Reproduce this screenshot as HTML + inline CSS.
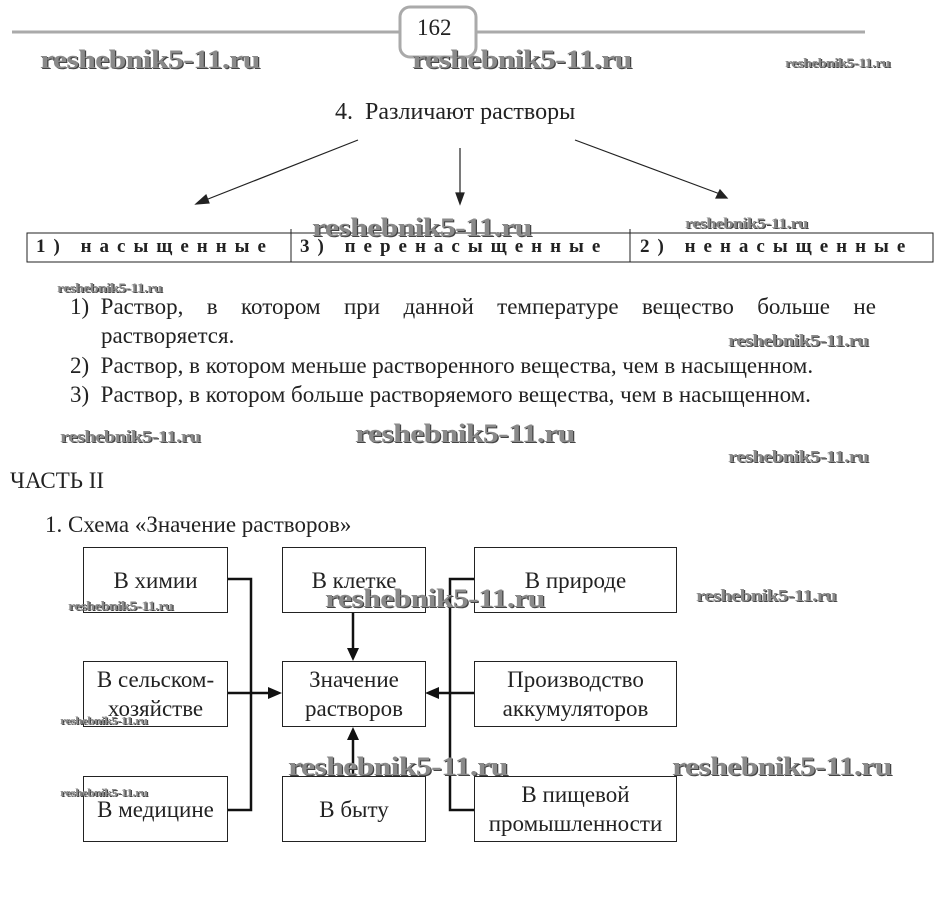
<!DOCTYPE html>
<html><head><meta charset="utf-8"><style>
body{margin:0;width:947px;height:897px;background:#fff;position:relative;overflow:hidden;font-family:"Liberation Serif",serif;color:#222}
.a{position:absolute;white-space:nowrap}
.wm{position:absolute;font-family:"Liberation Serif",serif;font-weight:bold;color:#8a8a8a;text-shadow:1px 1px 0 #444;white-space:nowrap;letter-spacing:-0.5px;transform:scaleX(1.22);transform-origin:left top}
.b{position:absolute;border:1px solid #222;box-sizing:border-box;display:flex;align-items:center;justify-content:center;text-align:center;font-size:23px;line-height:29px}
.t{font-family:"Liberation Serif",serif;font-weight:bold;font-size:19px;letter-spacing:8px}
</style></head><body>
<svg class="a" style="left:0;top:0" width="947" height="897">
<line x1="12" y1="32" x2="400" y2="32" stroke="#aaa" stroke-width="3"/>
<line x1="475" y1="32" x2="865" y2="32" stroke="#aaa" stroke-width="3"/>
<rect x="400" y="7" width="76" height="50" rx="10" fill="#fff" stroke="#aaa" stroke-width="3"/>
<g stroke="#222" stroke-width="1.2" fill="#222">
<line x1="358" y1="140" x2="203" y2="201"/><polygon points="196,204 206,195 209,203"/>
<line x1="460" y1="148" x2="460" y2="196"/><polygon points="456,193 464,193 460,204"/>
<line x1="575" y1="140" x2="720" y2="194"/><polygon points="727,198 716,198 720,190"/>
</g>
<rect x="27" y="233" width="906" height="29" fill="none" stroke="#222"/>
<line x1="291" y1="229" x2="291" y2="262" stroke="#222"/>
<line x1="630" y1="229" x2="630" y2="262" stroke="#222"/>
<g stroke="#111" stroke-width="2.5" fill="none">
<polyline points="227,579 251,579 251,810 227,810"/>
<line x1="227" y1="693" x2="270" y2="693"/>
<polyline points="474,579 450,579 450,810 474,810"/>
<line x1="474" y1="693" x2="437" y2="693"/>
<line x1="353" y1="612" x2="353" y2="650"/>
<line x1="353" y1="776" x2="353" y2="738"/>
</g>
<g fill="#111">
<polygon points="268,687 282,693 268,699"/>
<polygon points="439,687 425,693 439,699"/>
<polygon points="347,648 359,648 353,661"/>
<polygon points="347,740 359,740 353,727"/>
</g>
</svg>
<div class="a" style="left:417px;top:15px;font-size:23px">162</div>
<div class="wm" style="left:40px;top:45px;font-size:26px">reshebnik5-11.ru</div>
<div class="wm" style="left:412px;top:45px;font-size:26px">reshebnik5-11.ru</div>
<div class="wm" style="left:785px;top:55px;font-size:13px">reshebnik5-11.ru</div>
<div class="a" style="left:335px;top:99px;font-size:24px">4.&nbsp; Различают растворы</div>
<div class="wm" style="left:312px;top:213px;font-size:26px">reshebnik5-11.ru</div>
<div class="wm" style="left:685px;top:216px;font-size:15px">reshebnik5-11.ru</div>
<div class="a t" style="left:36px;top:236px">1) насыщенные</div>
<div class="a t" style="left:300px;top:236px">3) перенасыщенные</div>
<div class="a t" style="left:640px;top:236px">2) ненасыщенные</div>
<div class="wm" style="left:57px;top:280px;font-size:13px">reshebnik5-11.ru</div>
<div class="a" style="left:70px;top:292px;width:806px;font-size:23px;line-height:30px;display:flex;justify-content:space-between"><span>1)&nbsp; Раствор,</span><span>в</span><span>котором</span><span>при</span><span>данной</span><span>температуре</span><span>вещество</span><span>больше</span><span>не</span></div>
<div class="a" style="left:101px;top:321px;font-size:23px;line-height:30px">растворяется.</div>
<div class="wm" style="left:728px;top:331px;font-size:17px">reshebnik5-11.ru</div>
<div class="a" style="left:70px;top:351px;font-size:23px;line-height:30px">2)&nbsp; Раствор, в котором меньше растворенного вещества, чем в насыщенном.</div>
<div class="a" style="left:70px;top:380px;font-size:23px;line-height:30px">3)&nbsp; Раствор, в котором больше растворяемого вещества, чем в насыщенном.</div>
<div class="wm" style="left:60px;top:427px;font-size:17px">reshebnik5-11.ru</div>
<div class="wm" style="left:355px;top:419px;font-size:26px">reshebnik5-11.ru</div>
<div class="wm" style="left:728px;top:447px;font-size:17px">reshebnik5-11.ru</div>
<div class="a" style="left:10px;top:468px;font-size:23px">ЧАСТЬ II</div>
<div class="a" style="left:45px;top:512px;font-size:23px">1. Схема «Значение растворов»</div>
<div class="b" style="left:83px;top:547px;width:145px;height:66px">В химии</div>
<div class="b" style="left:83px;top:661px;width:145px;height:66px">В сельском-<br>хозяйстве</div>
<div class="b" style="left:83px;top:776px;width:145px;height:66px">В медицине</div>
<div class="b" style="left:282px;top:547px;width:144px;height:66px">В клетке</div>
<div class="b" style="left:282px;top:661px;width:144px;height:66px">Значение<br>растворов</div>
<div class="b" style="left:282px;top:776px;width:144px;height:66px">В быту</div>
<div class="b" style="left:474px;top:547px;width:203px;height:66px">В природе</div>
<div class="b" style="left:474px;top:661px;width:203px;height:66px">Производство<br>аккумуляторов</div>
<div class="b" style="left:474px;top:776px;width:203px;height:66px">В пищевой<br>промышленности</div>
<div class="wm" style="left:68px;top:598px;font-size:13px">reshebnik5-11.ru</div>
<div class="wm" style="left:325px;top:584px;font-size:26px">reshebnik5-11.ru</div>
<div class="wm" style="left:696px;top:586px;font-size:17px">reshebnik5-11.ru</div>
<div class="wm" style="left:60px;top:715px;font-size:11px">reshebnik5-11.ru</div>
<div class="wm" style="left:60px;top:787px;font-size:11px">reshebnik5-11.ru</div>
<div class="wm" style="left:288px;top:752px;font-size:26px">reshebnik5-11.ru</div>
<div class="wm" style="left:672px;top:752px;font-size:26px">reshebnik5-11.ru</div>
</body></html>
